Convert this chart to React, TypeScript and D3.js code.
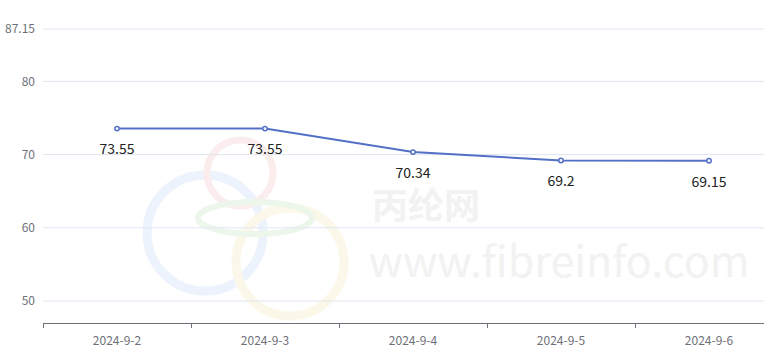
import React from "react";
import * as d3 from "d3";

const categories = ["2024-9-2", "2024-9-3", "2024-9-4", "2024-9-5", "2024-9-6"];
const values = [73.55, 73.55, 70.34, 69.2, 69.15];
const yTicks = [50, 60, 70, 80, 87.15];
const yMin = 47;
const yMax = 87.15;

const W = 764;
const H = 357;

export default function App() {
  const x = d3.scaleBand<string>().domain(categories).range([43, 783]);
  const y = d3.scaleLinear().domain([yMin, yMax]).range([323, 29]);
  const line = d3
    .line<number>()
    .x((_, i) => (x(categories[i]) as number) + x.bandwidth() / 2)
    .y((d) => y(d));
  const font = "'Noto Sans CJK SC', 'Noto Sans', sans-serif";
  return (
    <svg
      width={W}
      height={H}
      style={{ position: "fixed", left: 0, top: 0, background: "#fff" }}
      fontFamily={font}
    >
      {/* watermark */}
      <g opacity={0.5}>
        <circle cx={205} cy={233} r={58} fill="none" stroke="#dbe8fb" strokeWidth={9} />
        <circle cx={240} cy={173} r={33} fill="none" stroke="#f9dcdc" strokeWidth={7} />
        <circle cx={290} cy={262} r={54} fill="none" stroke="#fbf3d4" strokeWidth={9} />
        <ellipse cx={255} cy={218} rx={57} ry={16} fill="none" stroke="#dcefd8" strokeWidth={6} />
        <text x={426} y={219} fontSize={36} fontWeight="bold" fill="#e6e6e6" textAnchor="middle">丙纶网</text>
        <text x={559} y={277} fontSize={43} fill="#e6e6e6" textAnchor="middle">www.fibreinfo.com</text>
      </g>
      {yTicks.map((t) => (
        <g key={t}>
          <line x1={43} x2={W} y1={y(t)} y2={y(t)} stroke="#E0E6F1" strokeWidth={1} />
          <text x={35} y={y(t)} dy="0.35em" textAnchor="end" fontSize={12} fill="#6E7079">
            {t}
          </text>
        </g>
      ))}
      <line x1={43} x2={W} y1={323.5} y2={323.5} stroke="#6E7079" strokeWidth={1} />
      {categories.map((c, i) => (
        <g key={c}>
          <line x1={(x(c) as number) + 0.5} x2={(x(c) as number) + 0.5} y1={323} y2={328} stroke="#6E7079" />
          <text
            x={(x(c) as number) + x.bandwidth() / 2}
            y={341}
            dy="0.35em"
            textAnchor="middle"
            fontSize={12}
            fill="#6E7079"
          >
            {c}
          </text>
        </g>
      ))}
      <path d={line(values) as string} fill="none" stroke="#5470C6" strokeWidth={2} />
      {values.map((v, i) => {
        const cx = (x(categories[i]) as number) + x.bandwidth() / 2;
        return (
          <g key={i}>
            <circle cx={cx} cy={y(v)} r={2.2} fill="#fff" stroke="#5470C6" strokeWidth={1.5} />
            <text x={cx} y={y(v) + 21} dy="0.35em" textAnchor="middle" fontSize={14} fill="#222">
              {v}
            </text>
          </g>
        );
      })}
    </svg>
  );
}
